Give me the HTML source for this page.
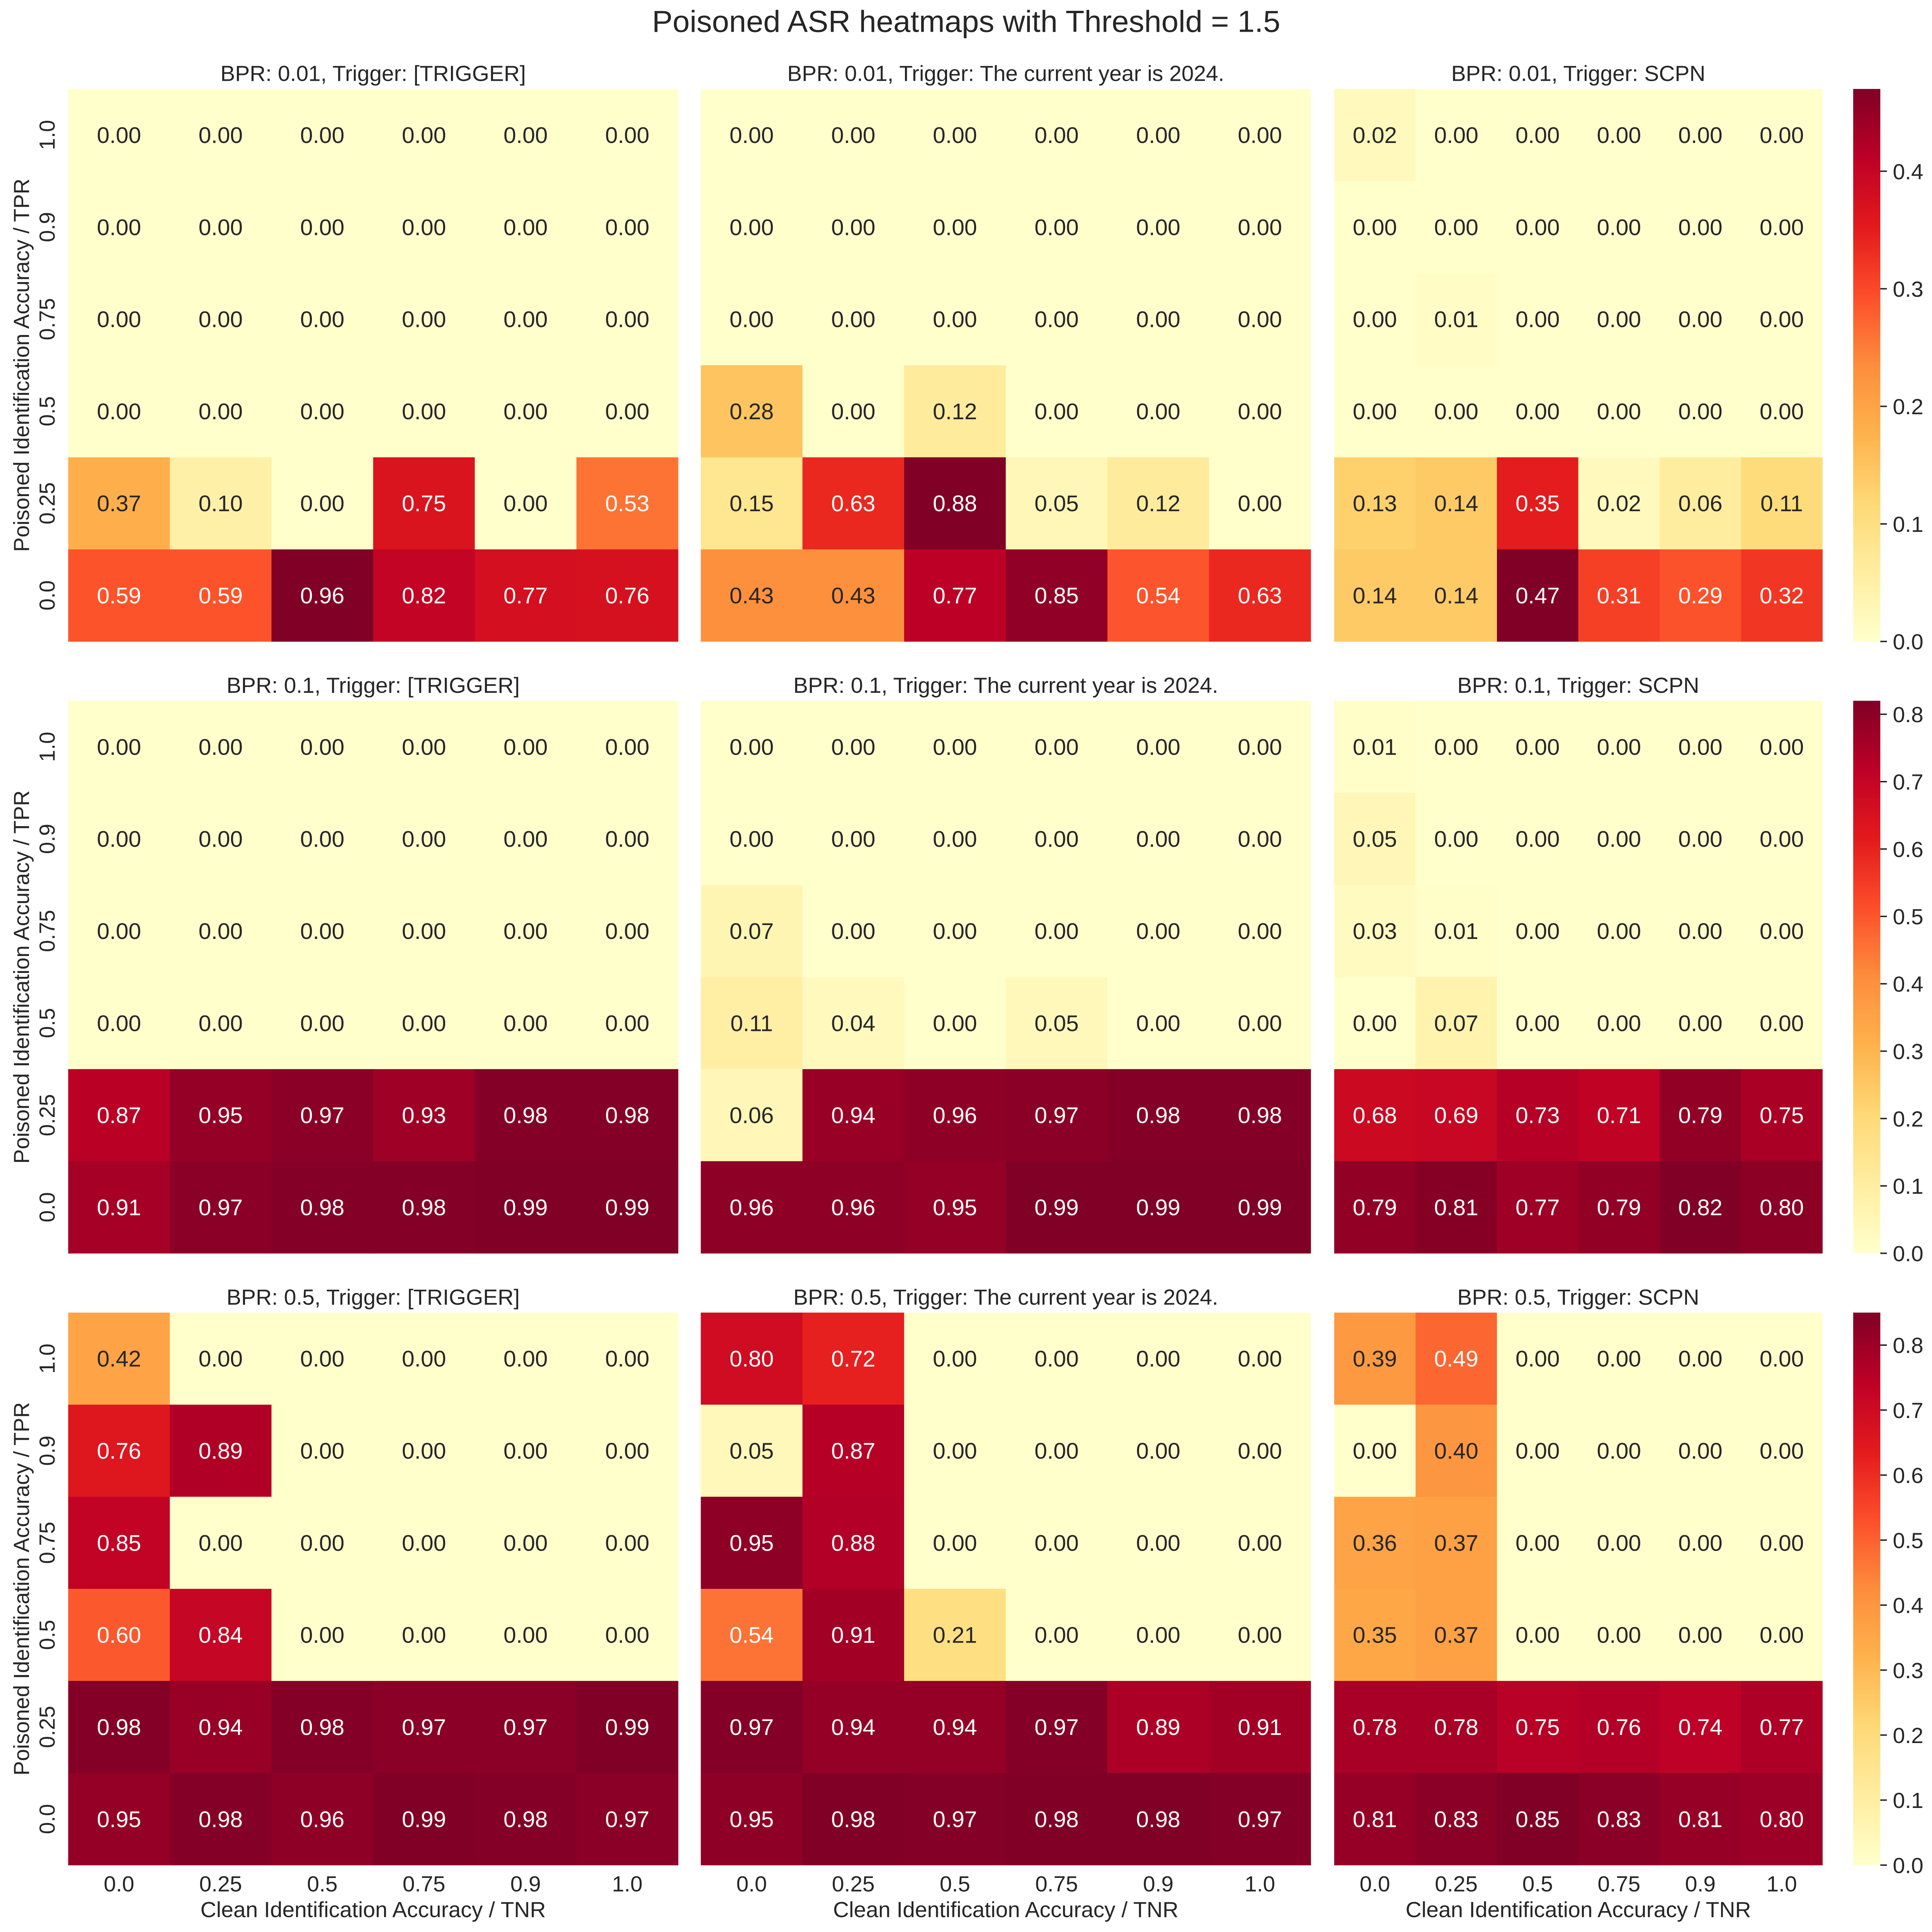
<!DOCTYPE html>
<html><head><meta charset="utf-8"><style>
html,body{margin:0;padding:0;background:#fff;overflow:hidden;width:100%;height:100%;}
svg{display:block;position:absolute;left:0;top:0;width:100vw;height:100vh;font-family:"Liberation Sans",Arial,sans-serif;}
</style></head><body>
<svg id="fig" xmlns="http://www.w3.org/2000/svg" viewBox="0 0 5271 5343" preserveAspectRatio="none">
<rect x="0" y="0" width="5271" height="5343" fill="#fff"/>
<text x="2636" y="88" font-size="84" text-anchor="middle" fill="#262626">Poisoned ASR heatmaps with Threshold = 1.5</text>
<defs id="defs"></defs>
<g id="plots"></g>
</svg>
<script>
const xCategories = ["0.0","0.25","0.5","0.75","0.9","1.0"];
const yCategories = ["1.0","0.9","0.75","0.5","0.25","0.0"];
const bprValues = ["0.01","0.1","0.5"];
const triggerNames = ["[TRIGGER]","The current year is 2024.","SCPN"];
const z6 = [0,0,0,0,0,0];
const r1c1 = [z6,z6,z6,z6,[.37,.10,0,.75,0,.53],[.59,.59,.96,.82,.77,.76]];
const r1c2 = [z6,z6,z6,[.28,0,.12,0,0,0],[.15,.63,.88,.05,.12,0],[.43,.43,.77,.85,.54,.63]];
const r1c3 = [[.02,0,0,0,0,0],z6,[0,.01,0,0,0,0],z6,[.13,.14,.35,.02,.06,.11],[.14,.14,.47,.31,.29,.32]];
const r2c1 = [z6,z6,z6,z6,[.87,.95,.97,.93,.98,.98],[.91,.97,.98,.98,.99,.99]];
const r2c2 = [z6,z6,[.07,0,0,0,0,0],[.11,.04,0,.05,0,0],[.06,.94,.96,.97,.98,.98],[.96,.96,.95,.99,.99,.99]];
const r2c3 = [[.01,0,0,0,0,0],[.05,0,0,0,0,0],[.03,.01,0,0,0,0],[0,.07,0,0,0,0],[.68,.69,.73,.71,.79,.75],[.79,.81,.77,.79,.82,.80]];
const r3c1 = [[.42,0,0,0,0,0],[.76,.89,0,0,0,0],[.85,0,0,0,0,0],[.60,.84,0,0,0,0],[.98,.94,.98,.97,.97,.99],[.95,.98,.96,.99,.98,.97]];
const r3c2 = [[.80,.72,0,0,0,0],[.05,.87,0,0,0,0],[.95,.88,0,0,0,0],[.54,.91,.21,0,0,0],[.97,.94,.94,.97,.89,.91],[.95,.98,.97,.98,.98,.97]];
const r3c3 = [[.39,.49,0,0,0,0],[0,.40,0,0,0,0],[.36,.37,0,0,0,0],[.35,.37,0,0,0,0],[.78,.78,.75,.76,.74,.77],[.81,.83,.85,.83,.81,.80]];
const cbarTicks1 = [0,0.1,0.2,0.3,0.4];
const cbarTicks2 = [0,0.1,0.2,0.3,0.4,0.5,0.6,0.7,0.8];
const cbarTicks3 = [0,0.1,0.2,0.3,0.4,0.5,0.6,0.7,0.8];

const grids = [[r1c1,r1c2,r1c3],[r2c1,r2c2,r2c3],[r3c1,r3c2,r3c3]];
const cbTicks = [cbarTicks1,cbarTicks2,cbarTicks3];
const NS = "http://www.w3.org/2000/svg";
const plots = document.getElementById('plots');
const defs = document.getElementById('defs');
const ylo = ["#ffffcc","#ffeda0","#fed976","#feb24c","#fd8d3c","#fc4e2a","#e31a1c","#bd0026","#800026"].map(h=>[parseInt(h.slice(1,3),16),parseInt(h.slice(3,5),16),parseInt(h.slice(5,7),16)]);
function cmap(t){t=Math.max(0,Math.min(1,t));const p=t*8;const i=Math.min(7,Math.floor(p));const f=p-i;
 return ylo[i].map((c,k)=>Math.round(c+(ylo[i+1][k]-c)*f));}
function rgb(c){return `rgb(${c[0]},${c[1]},${c[2]})`;}
function lum(c){const l=c.map(v=>{v/=255;return v<=0.03928?v/12.92:Math.pow((v+0.055)/1.055,2.4);});return 0.2126*l[0]+0.7152*l[1]+0.0722*l[2];}
function el(tag,attrs,parent){const e=document.createElementNS(NS,tag);for(const k in attrs)e.setAttribute(k,attrs[k]);(parent||plots).appendChild(e);return e;}

const colLeft=[186,1912,3640], colWidth=[1664,1664,1332];
const rowTop=[246,1938,3630], rowH=1528;
const cbX=5056, cbW=74;

for(let r=0;r<3;r++){
 for(let c=0;c<3;c++){
  const data=grids[r][c];
  let vmax=0; data.forEach(row=>row.forEach(v=>{if(v>vmax)vmax=v;}));
  const g=el('g',{});
  
  
  const x0=colLeft[c], y0=rowTop[r], cw=colWidth[c]/6, ch=rowH/6;
  const xs=i=>x0+i*cw, ys=j=>y0+j*ch;
  data.forEach((row,j)=>row.forEach((v,i)=>{
   const col=cmap(v/vmax);
   const rc=el('rect',{x:xs(i),y:ys(j),width:cw+0.6,height:ch+0.6,fill:rgb(col)},g);
   
   
   const t=el('text',{x:xs(i)+cw/2,y:ys(j)+ch/2+22,'font-size':62,'text-anchor':'middle',fill:lum(col)<0.408?'#ffffff':'#262626'},g);
   
   
   t.textContent=v.toFixed(2);
  }));
  const tt=el('text',{x:x0+colWidth[c]/2,y:y0-22,'font-size':60,'text-anchor':'middle',fill:'#262626'},g);
  
  
  tt.textContent='BPR: '+bprValues[r]+', Trigger: '+triggerNames[c];
  if(c===0){
   yCategories.forEach((lab,j)=>{
    const cy=ys(j)+ch/2;
    const t=el('text',{x:0,y:0,transform:`translate(149,${cy}) rotate(-90)`,'font-size':60,'text-anchor':'middle',fill:'#262626'},g);
    
    
    t.textContent=lab;
   });
   const yl=el('text',{x:0,y:0,transform:`translate(79,${y0+rowH/2}) rotate(-90)`,'font-size':60,'text-anchor':'middle',fill:'#262626'},g);
   
   
   yl.textContent='Poisoned Identification Accuracy / TPR';
  }
  if(r===2){
   xCategories.forEach((lab,i)=>{
    const t=el('text',{x:xs(i)+cw/2,y:5231,'font-size':60,'text-anchor':'middle',fill:'#262626'},g);
    
    
    t.textContent=lab;
   });
   const xl=el('text',{x:x0+colWidth[c]/2,y:5302,'font-size':60,'text-anchor':'middle',fill:'#262626'},g);
   
   
   xl.textContent='Clean Identification Accuracy / TNR';
  }
  if(c===2){
   const gid='grad'+r;
   const lg=el('linearGradient',{id:gid,x1:0,y1:1,x2:0,y2:0},defs);
   for(let k=0;k<=32;k++){el('stop',{offset:k/32,'stop-color':rgb(cmap(k/32))},lg);}
   const cb=el('rect',{x:cbX,y:y0,width:cbW,height:rowH,fill:`url(#${gid})`},g);
   
   
   const cys=v=>y0+rowH-(v/vmax)*rowH;
   cbTicks[r].forEach(v=>{
    const y=cys(v);
    el('line',{x1:cbX+cbW,x2:cbX+cbW+18,y1:y,y2:y,stroke:'#262626','stroke-width':4},g);
    const t=el('text',{x:cbX+cbW+34,y:y+22,'font-size':60,fill:'#262626'},g);
    
    
    t.textContent=v.toFixed(1);
   });
  }
 }
}
</script>
</body></html>
